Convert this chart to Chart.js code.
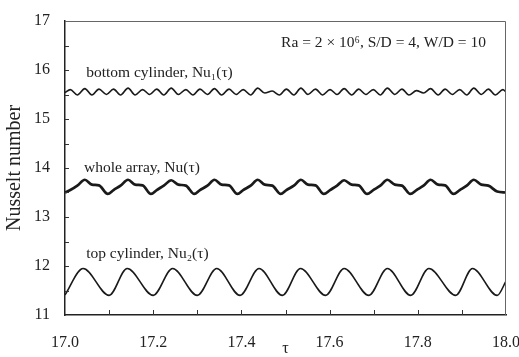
<!DOCTYPE html>
<html lang="en">
<head>
<meta charset="UTF-8">
<title>Nusselt number time history</title>
<script src="https://cdn.jsdelivr.net/npm/chart.js"></script>
<style>
  html, body { margin: 0; padding: 0; background: #fff; }
</style>
</head>
<body>
<canvas id="nuChart" width="519" height="357"></canvas>
<script>
// values (tau, Nu)
const tauTop = [17.000, 17.041, 17.100, 17.141, 17.200, 17.244, 17.300, 17.344, 17.397, 17.440,
                17.493, 17.534, 17.591, 17.633, 17.689, 17.731, 17.784, 17.825, 17.886, 17.924,
                17.980, 18.000];
const nuTop = [11.41, 11.95, 11.40, 11.95, 11.40, 11.95, 11.40, 11.95, 11.40, 11.95,
               11.40, 11.95, 11.40, 11.95, 11.40, 11.95, 11.40, 11.95, 11.40, 11.95,
               11.40, 11.69];

const tauBottom = [17.000, 17.012, 17.028, 17.045, 17.061, 17.077, 17.094, 17.110, 17.126, 17.143,
                   17.159, 17.176, 17.192, 17.208, 17.224, 17.241, 17.257, 17.274, 17.290, 17.306,
                   17.323, 17.339, 17.355, 17.372, 17.388, 17.404, 17.421, 17.437, 17.453, 17.470,
                   17.486, 17.502, 17.519, 17.535, 17.551, 17.568, 17.584, 17.601, 17.617, 17.633,
                   17.650, 17.666, 17.682, 17.699, 17.715, 17.731, 17.748, 17.764, 17.780, 17.797,
                   17.813, 17.829, 17.846, 17.862, 17.878, 17.895, 17.911, 17.927, 17.944, 17.960,
                   17.976, 17.993, 18.000];
const nuBottom = [15.54, 15.60, 15.49, 15.62, 15.49, 15.61, 15.50, 15.61, 15.49, 15.63,
                  15.49, 15.60, 15.50, 15.61, 15.49, 15.63, 15.50, 15.60, 15.49, 15.61,
                  15.50, 15.62, 15.49, 15.61, 15.50, 15.60, 15.49, 15.63, 15.53, 15.57,
                  15.49, 15.61, 15.49, 15.63, 15.50, 15.61, 15.49, 15.60, 15.50, 15.62,
                  15.49, 15.61, 15.50, 15.60, 15.49, 15.63, 15.50, 15.61, 15.49, 15.58,
                  15.53, 15.62, 15.49, 15.61, 15.50, 15.60, 15.49, 15.63, 15.50, 15.61,
                  15.49, 15.60, 15.55];

const tauWhole = [17.000, 17.012, 17.028, 17.045, 17.061, 17.077, 17.097, 17.110, 17.126, 17.143,
                  17.159, 17.176, 17.195, 17.208, 17.224, 17.241, 17.257, 17.274, 17.293, 17.306,
                  17.323, 17.339, 17.355, 17.372, 17.391, 17.404, 17.421, 17.437, 17.453, 17.470,
                  17.489, 17.502, 17.519, 17.535, 17.551, 17.568, 17.587, 17.601, 17.617, 17.633,
                  17.650, 17.666, 17.685, 17.699, 17.715, 17.731, 17.748, 17.764, 17.783, 17.797,
                  17.813, 17.829, 17.846, 17.862, 17.881, 17.895, 17.911, 17.927, 17.944, 17.960,
                  17.980, 18.000];
const nuWhole = [13.50, 13.55, 13.64, 13.76, 13.66, 13.645, 13.47, 13.55, 13.64, 13.76,
                 13.66, 13.645, 13.47, 13.55, 13.64, 13.75, 13.66, 13.64, 13.47, 13.55,
                 13.64, 13.76, 13.66, 13.645, 13.47, 13.55, 13.64, 13.76, 13.66, 13.64,
                 13.47, 13.55, 13.64, 13.76, 13.66, 13.645, 13.47, 13.55, 13.64, 13.75,
                 13.66, 13.645, 13.47, 13.55, 13.64, 13.76, 13.66, 13.64, 13.47, 13.55,
                 13.64, 13.76, 13.66, 13.645, 13.47, 13.55, 13.64, 13.76, 13.66, 13.64,
                 13.52, 13.50];

// inward tick marks
const xMarks = [17.1, 17.2, 17.3, 17.4, 17.5, 17.6, 17.7, 17.8, 17.9];
const yMarks = [11.5, 12, 12.5, 13, 13.5, 14, 14.5, 15, 15.5, 16, 16.5];

const notes = [
  { text: 'Ra = 2 × 10⁶, S/D = 4, W/D = 10', tau: 17.49, nu: 16.56 },
  { text: 'bottom cylinder, Nu₁(τ)', tau: 17.048, nu: 15.94 },
  { text: 'whole array, Nu(τ)', tau: 17.043, nu: 14.01 },
  { text: 'top cylinder, Nu₂(τ)', tau: 17.048, nu: 12.24 }
];

const serif = '"Liberation Serif", "DejaVu Serif", serif';
const ink = '#1a1a1a';

function pts(xs, ys) { return xs.map((t, i) => ({ x: t, y: ys[i] })); }

const frameAndNotes = {
  id: 'frameAndNotes',
  afterDatasetsDraw(chart) {
    const { ctx, chartArea: a, scales: { x, y } } = chart;
    ctx.save();
    // top and right sides of the box
    ctx.strokeStyle = '#666';
    ctx.lineWidth = 1;
    ctx.beginPath();
    ctx.moveTo(a.left, a.top + 0.5);
    ctx.lineTo(a.right - 0.5, a.top + 0.5);
    ctx.lineTo(a.right - 0.5, a.bottom);
    ctx.stroke();
    // ticks pointing into the plot
    ctx.strokeStyle = '#333';
    ctx.beginPath();
    xMarks.forEach(v => {
      const px = Math.round(x.getPixelForValue(v)) + 0.5;
      ctx.moveTo(px, a.bottom);
      ctx.lineTo(px, a.bottom - 5);
    });
    yMarks.forEach(v => {
      const py = Math.round(y.getPixelForValue(v)) + 0.5;
      ctx.moveTo(a.left, py);
      ctx.lineTo(a.left + 4, py);
    });
    ctx.stroke();
    // labels inside the plot
    ctx.fillStyle = '#222';
    ctx.font = '15.5px ' + serif;
    ctx.textBaseline = 'middle';
    ctx.textAlign = 'left';
    notes.forEach(n => ctx.fillText(n.text, x.getPixelForValue(n.tau), y.getPixelForValue(n.nu)));
    ctx.restore();
  }
};

const ctx = document.getElementById('nuChart').getContext('2d');
const chart = new Chart(ctx, {
  type: 'line',
  data: {
    datasets: [
      { label: 'bottom', data: pts(tauBottom, nuBottom), borderColor: ink, borderWidth: 1.6 },
      { label: 'whole', data: pts(tauWhole, nuWhole), borderColor: ink, borderWidth: 2.7 },
      { label: 'top', data: pts(tauTop, nuTop), borderColor: ink, borderWidth: 1.6 }
    ]
  },
  options: {
    responsive: false,
    animation: false,
    devicePixelRatio: 1,
    layout: { padding: { top: 21, right: 13, left: 0, bottom: 0 } },
    elements: {
      point: { radius: 0 },
      line: { cubicInterpolationMode: 'monotone', fill: false }
    },
    plugins: { legend: { display: false }, tooltip: { enabled: false } },
    scales: {
      x: {
        type: 'linear',
        min: 17, max: 18,
        afterFit: s => { s.height = 42; s.paddingLeft = 0; s.paddingRight = 0; },
        border: { display: true, color: '#222', width: 1.5 },
        grid: { display: true, drawOnChartArea: false, drawTicks: false },
        ticks: {
          stepSize: 0.2, autoSkip: false, maxRotation: 0, padding: 18,
          color: '#222', font: { family: serif, size: 16 },
          callback: v => Number(v).toFixed(1)
        },
        title: { display: true, text: 'τ', color: '#222', font: { family: serif, size: 16, lineHeight: 1 }, padding: 0 }
      },
      y: {
        min: 11, max: 17,
        afterFit: s => { s.width = 65; s.paddingTop = 0; s.paddingBottom = 0; },
        border: { display: true, color: '#222', width: 1.5 },
        grid: { display: true, drawOnChartArea: false, drawTicks: false },
        ticks: { stepSize: 1, padding: 15, color: '#222', font: { family: serif, size: 16 } },
        title: { display: true, text: 'Nusselt number', color: '#222', font: { family: serif, size: 20 }, padding: { top: 3, bottom: 0 } }
      }
    }
  },
  plugins: [frameAndNotes]
});
</script>
</body>
</html>
